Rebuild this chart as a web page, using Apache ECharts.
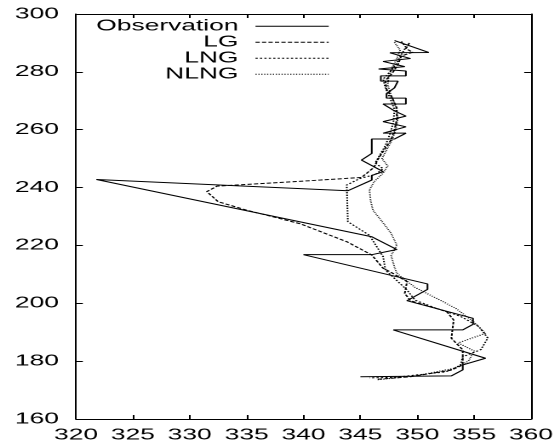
<!DOCTYPE html>
<html>
<head>
<meta charset="utf-8">
<script src="https://cdn.jsdelivr.net/npm/echarts@6/dist/echarts.min.js"></script>
<style>
  html, body { margin: 0; padding: 0; background: #fff; overflow: hidden; }
  /* the reference is a gnuplot figure stretched sideways, so the chart is drawn narrow and widened */
  #chart { width: 329px; height: 447px; transform: scaleX(1.70213); transform-origin: 0 0; }
</style>
</head>
<body>
<div id="chart"></div>
<script>
// [x, y] pairs
const observation = [
  [348.0, 290.8], [351.0, 286.7], [347.6, 286.6], [349.4, 284.6], [347.0, 283.6], [348.9, 281.8],
  [346.6, 281.0], [349.0, 280.3], [349.0, 278.6], [346.8, 278.6], [346.8, 276.8], [348.3, 276.8],
  [348.0, 274.5], [347.3, 272.5], [347.3, 270.9], [349.0, 270.9], [349.0, 268.9], [347.0, 268.9],
  [348.0, 266.5], [349.0, 264.7], [347.0, 262.8], [349.0, 261.0], [347.0, 258.8], [349.0, 258.8],
  [348.0, 256.8], [346.0, 256.8], [346.0, 251.8], [345.1, 249.5], [347.0, 245.5], [346.0, 244.2],
  [346.0, 242.6], [343.9, 238.9], [321.8, 242.8], [346.0, 223.0], [348.2, 218.6], [346.0, 216.8],
  [340.0, 216.8], [350.9, 206.7], [350.9, 204.8], [349.1, 200.9], [354.9, 194.8], [354.9, 192.7],
  [354.0, 190.8], [347.9, 190.8], [356.0, 181.0], [354.0, 178.7], [354.0, 177.0], [353.0, 174.9],
  [345.0, 174.6]
]
const lg = [
  [349.3, 290.0], [349.0, 288.0], [349.6, 286.8], [348.6, 285.5], [348.3, 282.5], [347.8, 279.5],
  [347.2, 277.0], [347.3, 274.0], [347.8, 271.0], [348.2, 267.5], [348.2, 263.5], [348.0, 260.0],
  [347.7, 256.5], [347.0, 252.5], [346.5, 249.5], [346.2, 247.0], [345.1, 243.5], [341.5, 242.6],
  [332.4, 240.5], [331.5, 238.6], [332.5, 235.1], [335.0, 232.2], [339.7, 227.5], [343.8, 221.3],
  [346.0, 216.7], [347.0, 212.1], [347.6, 210.9], [349.1, 207.5], [348.9, 203.4], [349.4, 200.9],
  [352.6, 197.1], [353.2, 194.2], [353.0, 187.9], [354.0, 183.9], [354.0, 178.7], [353.0, 176.9],
  [349.4, 174.6], [346.4, 173.7]
]
const lng = [
  [348.6, 290.5], [349.0, 288.5], [348.6, 286.0], [348.2, 283.0], [347.6, 280.0], [347.0, 277.5],
  [347.2, 274.5], [347.6, 271.0], [348.0, 267.0], [347.9, 262.5], [347.6, 258.5], [347.2, 254.5],
  [346.6, 250.5], [346.3, 248.5], [347.0, 246.5], [346.3, 244.5], [345.0, 243.2], [343.8, 240.9],
  [343.9, 228.2], [345.8, 223.5], [347.0, 216.1], [347.2, 211.5], [349.1, 204.6], [349.8, 201.1],
  [351.5, 198.5], [353.8, 195.5], [355.4, 192.0], [356.2, 188.0], [355.6, 184.0], [354.0, 181.5],
  [353.8, 178.5], [352.5, 176.3], [348.0, 174.4], [345.8, 174.2]
]
const nlng = [
  [348.0, 290.2], [348.5, 287.5], [348.2, 284.5], [347.8, 281.5], [347.5, 278.5], [347.4, 275.5],
  [347.7, 272.0], [348.1, 268.0], [348.3, 264.0], [348.1, 260.0], [347.8, 256.5], [347.3, 253.0],
  [346.9, 250.0], [347.4, 247.5], [347.0, 245.0], [346.2, 242.0], [345.8, 239.2], [345.9, 235.5],
  [346.1, 232.2], [347.0, 227.8], [347.7, 224.2], [348.2, 220.1], [347.7, 216.5], [348.0, 212.5],
  [348.2, 210.4], [349.8, 205.5], [352.0, 201.1], [353.4, 198.2], [354.9, 193.8], [356.0, 189.6],
  [353.6, 186.3], [355.0, 183.5], [354.5, 180.0], [353.2, 177.5], [350.0, 175.0], [346.4, 173.5]
]
const seriesNames = ['Observation', 'LG', 'LNG', 'NLNG']
const xRange = [320, 360, 5]
const yRange = [160, 300, 20]

const font = 'Liberation Sans, Arial, Helvetica, sans-serif'

function mkLine (name, data, dash) {
  return {
    name: name,
    type: 'line',
    data: data,
    symbol: 'none',
    smooth: false,
    silent: true,
    color: '#000',
    itemStyle: { color: '#000' },
    lineStyle: { color: '#000', width: 1, type: dash }
  }
}

function mkAxis (pos, range, showLabel, margin) {
  return {
    type: 'value',
    position: pos,
    min: range[0],
    max: range[1],
    interval: range[2],
    axisLine: { show: true, onZero: false, lineStyle: { color: '#000', width: 1 } },
    axisTick: { show: true, inside: true, length: 4, lineStyle: { color: '#000', width: 1 } },
    axisLabel: { show: showLabel, color: '#000', fontSize: 15.5, fontFamily: font, margin: margin },
    splitLine: { show: false }
  }
}

const chart = echarts.init(document.getElementById('chart'), null, { devicePixelRatio: 2 })
chart.setOption({
  animation: false,
  backgroundColor: '#fff',
  grid: { left: 44.65, right: 17.04, top: 14, bottom: 28 },
  legend: {
    data: seriesNames,
    orient: 'vertical',
    align: 'right',
    right: 135.4,
    top: 18.2,
    padding: 0,
    itemGap: 0,
    itemWidth: 43,
    itemHeight: 10,
    selectedMode: false,
    itemStyle: { opacity: 0 },
    lineStyle: { width: 1, color: '#000' },
    textStyle: { color: '#000', fontSize: 15.5, fontFamily: font, lineHeight: 15, padding: [0, 5, 0, 0] }
  },
  xAxis: [
    mkAxis('bottom', xRange, true, 8),
    mkAxis('top', xRange, false, 8)
  ],
  yAxis: [
    mkAxis('left', yRange, true, 10),
    mkAxis('right', yRange, false, 10)
  ],
  series: [
    mkLine(seriesNames[0], observation, 'solid'),
    mkLine(seriesNames[1], lg, [2.5, 1.3]),
    mkLine(seriesNames[2], lng, [1.3, 1.3]),
    mkLine(seriesNames[3], nlng, [0.7, 1])
  ]
})
</script>
</body>
</html>
